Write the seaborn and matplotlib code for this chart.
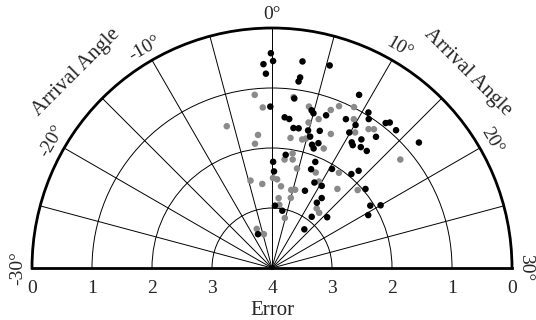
import numpy as np
import pandas as pd
import matplotlib
matplotlib.use("Agg")
import matplotlib.pyplot as plt
import seaborn as sns

sns.set_style("white")
plt.rcParams['font.family'] = ['Liberation Serif', 'DejaVu Serif']

# arrival angle (deg) and error for the two point sets
black_angle = [-0.1, -0.8, 0.1, -0.6, 2.8, 2.8, 2.7, 2.5, -0.2, 5.3, 8.9, 4.7, 5.0, 6.5, 1.6, 2.2,
               8.8, 10.6, 11.0, 12.7, 13.0, 14.0, 10.1, 2.9, 3.6, 4.9, 6.4, 9.9, 12.8, 5.4, 11.6,
               10.8, 11.1, 12.1, 13.0, 6.0, 6.4, 6.8, 16.5, 2.3, 0.2, 7.4, 0.4, 7.2, 10.4, 13.4,
               13.9, 8.8, 10.4, 7.7, 16.6, 11.8, 11.5, 0.9, 3.4, 12.6, 15.8, 19.2, 20.0, 20.4,
               13.3, -7.5]
black_error = [0.42, 0.60, 0.55, 0.76, 0.52, 0.79, 0.86, 1.15, 1.31, 0.49, 0.77, 1.29, 1.33, 1.30,
               1.48, 1.50, 1.23, 0.95, 1.04, 0.93, 0.88, 0.91, 1.24, 1.64, 1.63, 1.63, 1.58, 1.40,
               1.21, 1.72, 1.39, 1.52, 1.55, 1.50, 1.49, 1.84, 1.89, 1.78, 0.78, 2.10, 2.23, 2.09,
               2.39, 2.23, 2.07, 1.95, 1.83, 2.41, 2.40, 2.60, 1.96, 2.57, 2.68, 2.96, 3.03, 2.92,
               2.75, 2.06, 1.91, 2.17, 3.16, 3.39]
gray_angle = [-1.9, 2.4, -1.1, 4.3, 7.5, 9.0, 6.8, 5.8, 9.6, 4.7, 11.6, 12.1, 10.5, 7.9, -5.9,
              -2.0, 2.7, 4.4, 4.9, -2.6, 7.8, 3.4, 2.2, 3.6, 16.6, 0.2, 1.1, 4.7, 8.2, 11.7, -4.6,
              -2.2, 2.1, 4.6, 5.5, 9.5, 13.2, 15.9, 1.8, 5.0, 2.2, 12.3, 13.5, 4.8, -7.1, -4.5]
gray_error = [1.10, 1.13, 1.32, 1.24, 1.08, 0.99, 1.19, 1.40, 1.17, 1.50, 1.18, 1.13, 1.35, 1.56,
              1.52, 1.77, 1.81, 1.80, 1.77, 1.91, 1.83, 2.06, 2.18, 2.16, 1.20, 2.50, 2.52, 2.29,
              2.25, 2.06, 2.50, 2.59, 2.63, 2.66, 2.64, 2.36, 2.29, 2.07, 2.83, 2.79, 2.94, 2.76,
              2.79, 3.14, 3.30, 3.42]

angle_ticks = [-30, -20, -10, 0, 10, 20, 30]
error_ticks = [0, 1, 2, 3, 4]
max_error = 4
scale = 3  # +-30 deg of arrival angle spread over the half circle

df = pd.concat([
    pd.DataFrame({'angle': gray_angle, 'error': gray_error, 'set': 'gray'}),
    pd.DataFrame({'angle': black_angle, 'error': black_error, 'set': 'black'}),
], ignore_index=True)
df['theta'] = np.radians(df['angle'] * scale)
df['r'] = max_error - df['error']

fig = plt.figure(figsize=(5.36, 3.2), dpi=100)
# square box: the half disc sits in the middle half of it
ax = fig.add_axes([32/536, -68/320, 480/536, 480/320], projection='polar')
ax.set_theta_zero_location('N')
ax.set_theta_direction(-1)
ax.set_thetamin(-90)
ax.set_thetamax(90)
ax.set_rlim(0, max_error)

ax.set_thetagrids(np.arange(-90, 91, 15), labels=[''] * 13)
ax.set_rgrids([1, 2, 3], labels=[''] * 3)
ax.grid(True, color='black', lw=0.7, ls='-')
ax.set_axisbelow(True)
for name in ['polar', 'start', 'end']:
    ax.spines[name].set_linewidth(2.0)
    ax.spines[name].set_color('black')

sns.scatterplot(data=df, x='theta', y='r', hue='set',
                palette={'gray': '#8a8a8a', 'black': 'black'},
                s=22, linewidth=0, legend=False, ax=ax, zorder=3)
ax.set_xlabel('')
ax.set_ylabel('')

# angle labels around the arc
for a in angle_ticks:
    th = np.radians(a * scale)
    ax.text(th, 4.23, '%d°' % a, ha='center', va='center', rotation=-a * scale,
            rotation_mode='anchor', fontsize=14)

# error labels along the base line, both sides
for e in error_ticks:
    ax.annotate(str(e), (np.radians(-90), max_error - e), xytext=(0, -18),
                textcoords='offset points', ha='center', va='baseline', fontsize=14)
    if e < max_error:
        ax.annotate(str(e), (np.radians(90), max_error - e), xytext=(0, -18),
                    textcoords='offset points', ha='center', va='baseline', fontsize=14)

ax.annotate('Error', (0, 0), xytext=(0, -34), textcoords='offset points',
            ha='center', va='baseline', fontsize=15)

for side in [-1, 1]:
    ax.text(np.radians(45 * side), 4.62, 'Arrival Angle', ha='center', va='center',
            rotation=-45 * side, rotation_mode='anchor', fontsize=15)

fig.savefig('out.png', dpi=100)
